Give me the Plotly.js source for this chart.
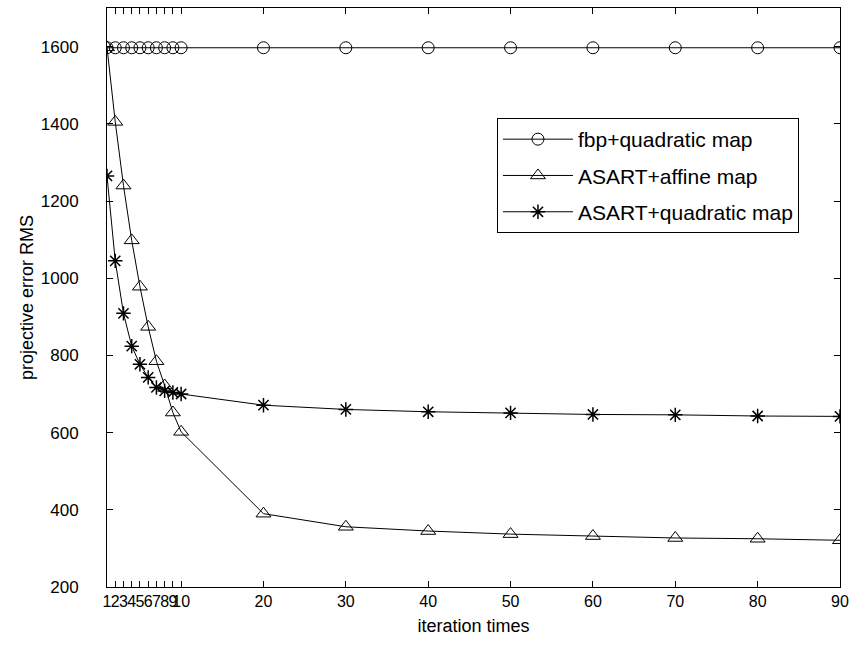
<!DOCTYPE html>
<html>
<head>
<meta charset="utf-8">
<script src="https://cdn.plot.ly/plotly-3.0.1.min.js"></script>
<style>
html,body{margin:0;padding:0;background:#fff;}
#chart{width:863px;height:645px;}
</style>
</head>
<body>
<div id="chart"></div>
<script>
var iterations = [1,2,3,4,5,6,7,8,9,10,20,30,40,50,60,70,80,90];
var fbpQuadratic = [1597,1597,1597,1597,1597,1597,1597,1597,1597,1597,1597,1597,1597,1597,1597,1597,1597,1597];
var asartAffine = [1598,1405,1240,1098,978,874,785,722,652,602,390,356,345,337,332,327,325,321];
var asartQuadratic = [1265,1045,909,824,777,743,717,708,704,700,671,660,654,651,647,646,643,642];
var xTickVals = [1,2,3,4,5,6,7,8,9,10,20,30,40,50,60,70,80,90];
var xTickText = ['1','2','3','4','5','6','7','8','9','10','20','30','40','50','60','70','80','90'];
var yTickVals = [200,400,600,800,1000,1200,1400,1600];
var seriesNames = ['fbp+quadratic map','ASART+affine map','ASART+quadratic map'];

var fontFam = 'Liberation Sans, Arial, sans-serif';

var traces = [
  {x: iterations, y: fbpQuadratic, name: seriesNames[0], legendgroup: 'a', mode: 'lines+markers', type: 'scatter',
   line: {color: '#000', width: 1},
   marker: {symbol: 'circle-open', size: 12, color: '#000', line: {width: 1, color: '#000'}}},
  {x: iterations, y: asartAffine, name: seriesNames[1], legendgroup: 'b', mode: 'lines+markers', type: 'scatter',
   line: {color: '#000', width: 1},
   marker: {symbol: 'triangle-up-open', size: 13, color: '#000', line: {width: 1, color: '#000'}}},
  {x: iterations, y: asartQuadratic, name: seriesNames[2], legendgroup: 'c', mode: 'lines+markers', type: 'scatter',
   line: {color: '#000', width: 1},
   marker: {symbol: 'asterisk-open', size: 12, color: '#000', line: {width: 1.5, color: '#000'}}}
];

var layout = {
  width: 863, height: 645,
  paper_bgcolor: '#fff', plot_bgcolor: '#fff',
  margin: {l: 107, r: 23, t: 8, b: 58},
  showlegend: true,
  font: {family: fontFam, color: '#000', size: 16},
  xaxis: {
    range: [1, 90], tickmode: 'array', tickvals: xTickVals, ticktext: xTickText,
    tickangle: 0, ticks: 'inside', ticklen: 6, tickcolor: '#000', mirror: 'ticks',
    showline: true, linecolor: '#000', linewidth: 1, showgrid: false, zeroline: false,
    tickfont: {family: fontFam, size: 16, color: '#000'},
    title: {text: 'iteration times', font: {family: fontFam, size: 18, color: '#000'}, standoff: 10}
  },
  yaxis: {
    range: [200, 1700], tickmode: 'array', tickvals: yTickVals,
    ticks: 'inside', ticklen: 6, tickcolor: '#000', mirror: 'ticks',
    showline: true, linecolor: '#000', linewidth: 1, showgrid: false, zeroline: false,
    ticklabelstandoff: 24,
    tickfont: {family: fontFam, size: 17, color: '#000'},
    title: {text: 'projective error RMS', font: {family: fontFam, size: 18, color: '#000'}, standoff: 2}
  },
  legend: {
    x: 0.532, y: 0.81, xanchor: 'left', yanchor: 'top',
    bgcolor: '#fff', bordercolor: '#000', borderwidth: 1,
    font: {family: fontFam, size: 21, color: '#000'},
    itemwidth: 70,
    tracegroupgap: 6
  }
};

Plotly.newPlot('chart', traces, layout, {displayModeBar: false, staticPlot: true});
</script>
</body>
</html>
